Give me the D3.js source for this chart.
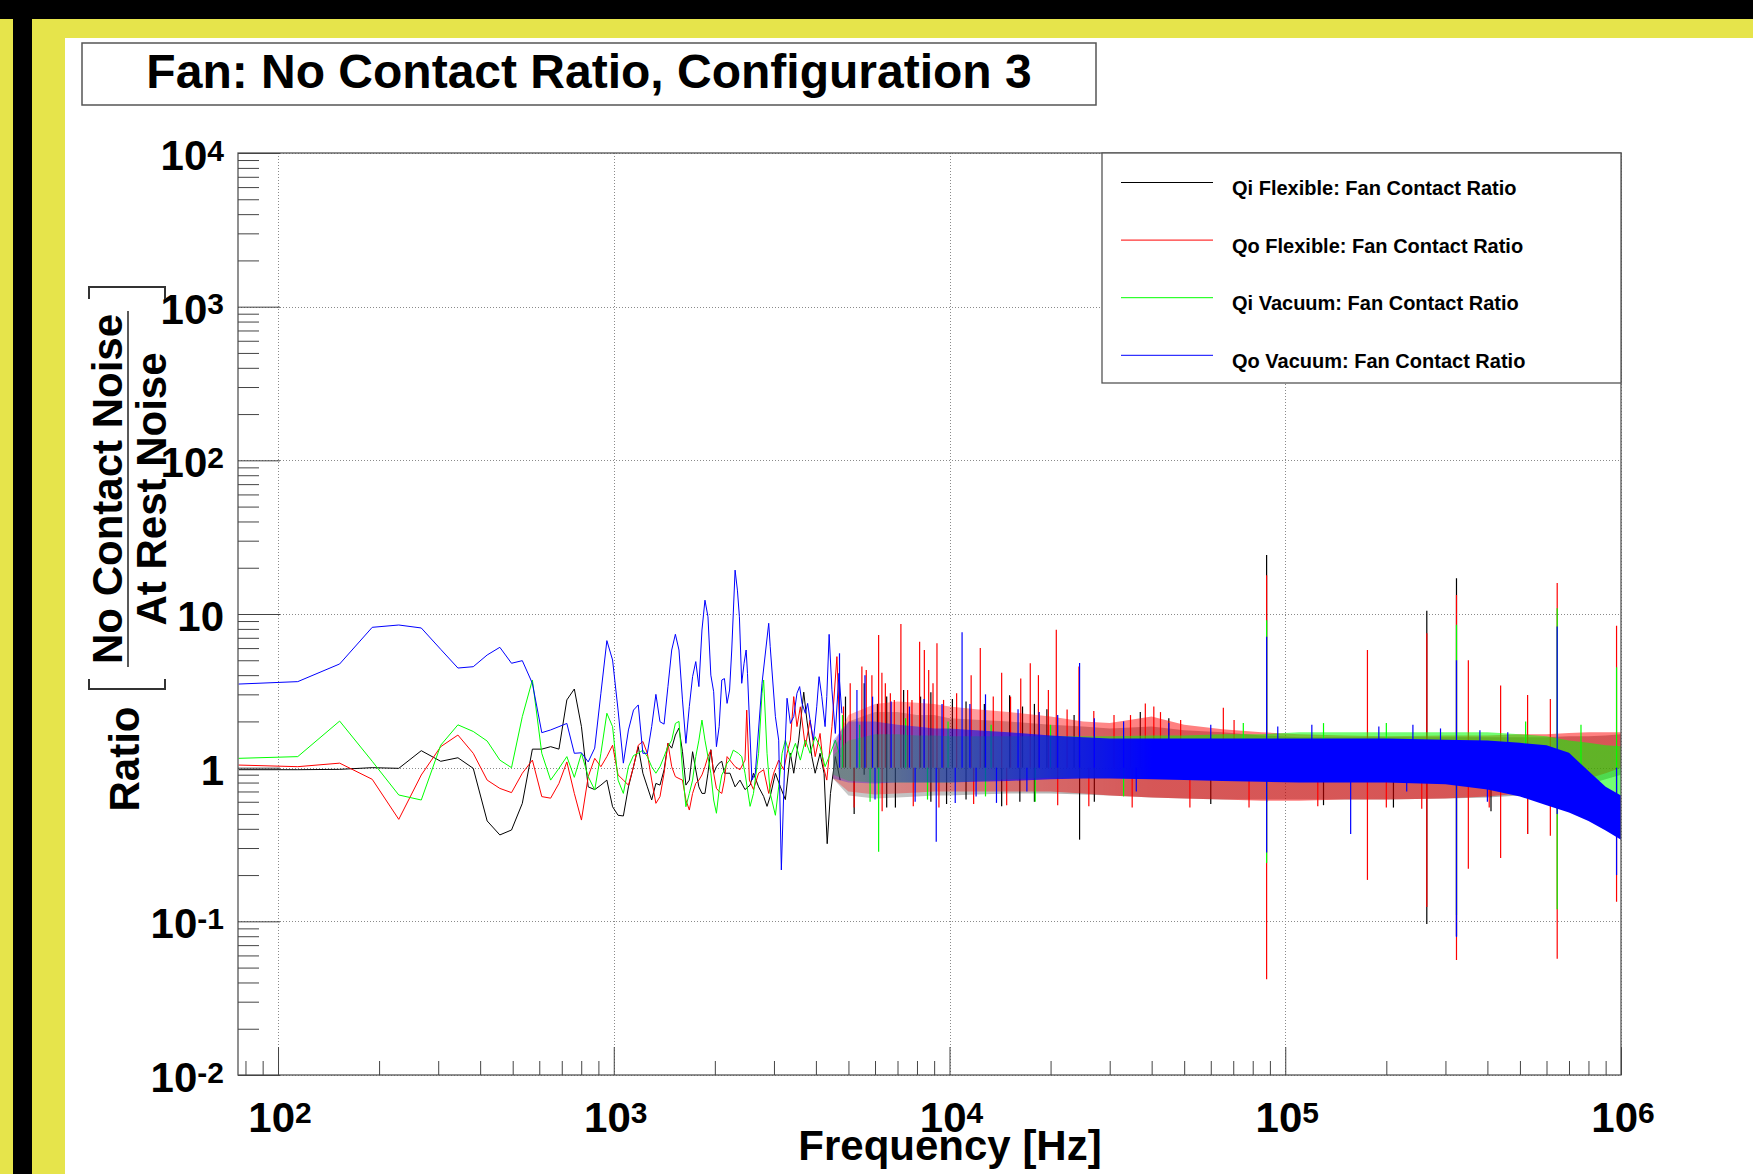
<!DOCTYPE html>
<html><head><meta charset="utf-8">
<script src="https://cdn.jsdelivr.net/npm/d3@7"></script>
<style>
html,body{margin:0;padding:0;background:#fff;}
svg{display:block;font-family:"Liberation Sans",Arial,Helvetica,sans-serif;font-weight:bold;}
</style></head><body>
<svg id="c" width="1753" height="1174"></svg>
<script>
// ---------------- DATA ----------------
const chartTitle = "Fan: No Contact Ratio, Configuration 3";
const xTitle = "Frequency [Hz]";
const seriesNames = ["Qi Flexible: Fan Contact Ratio","Qo Flexible: Fan Contact Ratio","Qi Vacuum: Fan Contact Ratio","Qo Vacuum: Fan Contact Ratio"];
const seriesColors = ["#000000","#ff0000","#00ff00","#0000ff"];

const xTickValues = [1e2,1e3,1e4,1e5,1e6];
const xTickLabels = [["10","2"],["10","3"],["10","4"],["10","5"],["10","6"]];
const yTickValues = [1e-2,1e-1,1,10,1e2,1e3,1e4];
const yTickLabels = [["10","-2"],["10","-1"],["1",""],["10",""],["10","2"],["10","3"],["10","4"]];

// low-frequency traces: [frequency Hz, ratio]
const qiFlexLow = [[76.3,0.97],[114.5,0.97],[152.6,0.975],[190.8,1.0],[228.9,0.99],[267.1,1.29],[305.2,1.1],[343.4,1.16],[381.5,0.99],[419.7,0.45],[457.8,0.365],[496.0,0.393],[534.1,0.586],[572.3,1.32],[610.4,1.32],[648.6,1.37],[686.7,1.32],[724.9,2.76],[763.0,3.25],[801.2,1.85],[839.3,0.75],[877.5,0.72],[915.6,0.77],[953.8,0.83],[991.9,0.557],[1030,0.49],[1068,0.485],[1106,0.75],[1145,1.015],[1183,1.37],[1221,0.92],[1259,0.75],[1297,0.616],[1335,0.79],[1373,0.77],[1412,0.966],[1450,1.44],[1488,1.34],[1526,1.63],[1564,1.81],[1602,1.27],[1640,0.77],[1679,0.83],[1717,1.27],[1755,0.966],[1793,0.75],[1831,0.68],[1869,0.68],[1908,0.92],[1946,1.31],[1984,0.92],[2022,1.015],[2060,1.07],[2098,1.1],[2136,0.92],[2219,0.92],[2298,0.75],[2377,0.83],[2460,0.72],[2547,0.77],[2607,0.92],[2700,0.75],[2795,0.65],[2861,0.56],[2924,0.65],[3030,0.92],[3135,0.75],[3244,0.62],[3358,1.24],[3436,0.92],[3555,1.51],[3680,3.1],[3760,2.04],[3890,1.18],[3980,0.92],[4116,1.24],[4230,0.92],[4322,0.32],[4420,0.68],[4570,1.18],[4724,0.83]];
const qoFlexLow = [[76.3,1.04],[114.5,1.015],[152.6,1.07],[190.8,0.84],[228.9,0.461],[267.1,0.896],[305.2,1.37],[343.4,1.63],[381.5,1.24],[419.7,0.83],[457.8,0.733],[496.0,0.688],[534.1,0.92],[572.3,1.12],[610.4,0.648],[648.6,0.633],[686.7,0.79],[724.9,1.09],[763.0,0.68],[801.2,0.456],[839.3,0.874],[877.5,1.15],[915.6,1.015],[953.8,1.18],[991.9,1.40],[1030,0.897],[1068,0.83],[1106,0.77],[1145,1.015],[1183,1.40],[1221,1.48],[1259,1.24],[1297,0.83],[1335,0.586],[1373,0.648],[1412,0.92],[1450,1.44],[1488,1.015],[1526,0.874],[1564,0.85],[1602,0.83],[1640,0.616],[1679,0.53],[1717,0.68],[1755,0.79],[1793,0.83],[1831,0.897],[1869,1.015],[1908,1.18],[1946,1.30],[1984,0.92],[2022,0.733],[2060,0.70],[2098,0.68],[2136,0.83],[2175,1.18],[2298,1.015],[2377,0.97],[2460,1.12],[2489,2.37],[2535,0.83],[2607,0.72],[2700,0.92],[2795,0.97],[2894,0.68],[2994,0.92],[3099,1.12],[3208,0.97],[3282,1.24],[3358,1.51],[3436,2.9],[3513,1.85],[3595,2.49],[3720,1.37],[3843,2.04],[3980,1.18],[4116,1.67],[4212,1.015],[4310,0.83],[4465,1.85],[4620,5.28],[4724,1.51]];
const qiVacLow = [[76.3,1.15],[114.5,1.18],[152.6,2.01],[190.8,1.1],[228.9,0.664],[267.1,0.616],[305.2,1.40],[343.4,1.90],[381.5,1.72],[419.7,1.49],[457.8,1.12],[496.0,1.0],[534.1,2.15],[572.3,3.72],[610.4,1.24],[648.6,0.83],[686.7,0.99],[724.9,1.18],[763.0,0.865],[801.2,1.24],[839.3,0.874],[877.5,0.716],[915.6,1.24],[953.8,2.26],[991.9,1.85],[1030,0.83],[1068,0.68],[1106,1.015],[1145,1.2],[1183,1.24],[1221,1.30],[1259,1.18],[1297,1.015],[1335,0.92],[1373,1.015],[1412,1.18],[1450,1.37],[1488,1.51],[1526,1.94],[1564,2.0],[1602,0.966],[1640,0.557],[1679,0.68],[1717,0.83],[1755,1.18],[1793,1.51],[1831,2.04],[1869,1.51],[1908,1.18],[1946,0.92],[1984,0.616],[2022,0.505],[2060,0.716],[2098,0.897],[2136,0.966],[2175,1.07],[2213,1.12],[2270,1.30],[2350,1.24],[2405,1.18],[2460,0.92],[2547,0.56],[2607,0.68],[2700,1.24],[2764,3.05],[2795,3.72],[2861,1.24],[2924,0.68],[3030,0.49],[3099,0.75],[3172,1.24],[3244,1.51],[3358,1.18],[3476,1.44],[3595,1.12],[3720,1.51],[3843,1.24],[3980,1.59],[4116,1.37],[4260,1.015],[4420,1.24],[4570,1.51],[4724,1.18]];
const qoVacLow = [[76.3,3.50],[114.5,3.63],[152.6,4.73],[190.8,8.19],[228.9,8.48],[267.1,8.11],[305.2,5.89],[343.4,4.45],[381.5,4.54],[419.7,5.41],[457.8,6.07],[496.0,4.78],[534.1,4.97],[572.3,3.54],[610.4,1.69],[648.6,1.76],[686.7,1.85],[724.9,1.94],[763.0,1.24],[801.2,1.25],[839.3,1.09],[877.5,1.34],[915.6,3.05],[953.8,6.71],[991.9,5.02],[1030,2.37],[1068,1.07],[1106,1.76],[1145,2.37],[1183,2.56],[1221,1.24],[1259,1.24],[1297,1.85],[1335,3.0],[1373,1.99],[1412,1.92],[1450,3.37],[1488,5.83],[1526,7.38],[1564,5.83],[1602,2.76],[1640,1.44],[1679,2.5],[1717,3.91],[1755,4.9],[1793,3.37],[1831,7.87],[1869,12.3],[1908,9.6],[1946,4.0],[1984,3.12],[2022,1.37],[2060,1.85],[2098,3.72],[2136,3.8],[2175,2.62],[2213,3.2],[2246,5.83],[2298,19.3],[2335,14.3],[2367,9.6],[2405,3.54],[2444,4.78],[2479,5.83],[2502,4.11],[2579,0.83],[2640,0.92],[2764,3.54],[2894,8.7],[2924,6.13],[3030,2.15],[3099,1.51],[3156,0.216],[3244,1.51],[3282,2.83],[3358,1.94],[3436,2.15],[3513,3.05],[3578,3.37],[3637,2.62],[3720,2.26],[3780,2.62],[3843,2.04],[3934,1.51],[4023,2.49],[4088,3.91],[4165,2.9],[4260,1.85],[4310,2.9],[4380,7.37],[4465,3.21],[4570,1.67],[4685,4.11],[4780,2.26]];

// dense region: envelope of each trace on a common frequency grid
const bandFreqs = [4500,5000,6000,7000,8000,9000,10000,12000,15000,20000,25000,30000,40000,50000,65000,85000,110000,150000,200000,300000,400000,500000,600000,700000,800000,900000,1000000];
const qiFlexHi = [1.3,2.0,2.3,2.3,2.2,2.2,2.1,2.05,2.0,1.9,1.85,1.8,1.85,1.75,1.7,1.62,1.58,1.58,1.58,1.58,1.58,1.58,1.58,1.6,1.6,1.62,1.65];
const qiFlexLo = [0.85,0.66,0.63,0.64,0.65,0.66,0.66,0.67,0.68,0.68,0.67,0.66,0.64,0.63,0.62,0.62,0.62,0.62,0.62,0.63,0.64,0.66,0.69,0.73,0.78,0.84,0.9];
const qoFlexHi = [1.4,2.2,2.6,2.7,2.65,2.6,2.5,2.4,2.3,2.15,2.0,1.95,2.15,1.9,1.78,1.7,1.65,1.62,1.6,1.62,1.62,1.65,1.65,1.68,1.7,1.7,1.7];
const qoFlexLo = [0.85,0.7,0.67,0.68,0.69,0.7,0.7,0.7,0.7,0.7,0.68,0.66,0.64,0.63,0.62,0.61,0.61,0.62,0.62,0.63,0.65,0.68,0.72,0.78,0.85,0.92,1.0];
const qiVacHi = [1.2,1.5,1.65,1.65,1.62,1.62,1.6,1.6,1.6,1.6,1.6,1.6,1.62,1.62,1.65,1.65,1.7,1.7,1.7,1.7,1.7,1.65,1.6,1.5,1.45,1.4,1.38];
const qiVacLo = [0.9,0.82,0.8,0.8,0.8,0.8,0.8,0.82,0.84,0.86,0.86,0.86,0.86,0.85,0.84,0.83,0.82,0.82,0.82,0.8,0.76,0.72,0.7,0.68,0.66,0.64,0.62];
const qoVacHi = [1.5,2.0,2.0,1.9,1.85,1.8,1.8,1.75,1.7,1.62,1.58,1.55,1.55,1.55,1.55,1.55,1.55,1.55,1.55,1.52,1.5,1.45,1.4,1.25,0.95,0.75,0.66];
const qoVacLo = [0.85,0.8,0.79,0.8,0.8,0.8,0.8,0.81,0.82,0.84,0.85,0.85,0.84,0.83,0.82,0.81,0.8,0.8,0.8,0.78,0.72,0.65,0.57,0.51,0.45,0.39,0.34];

// isolated excursions: [frequency Hz, low ratio, high ratio]
const qiFlexSpikes = [[4900,1,2.9],[5200,0.5,1],[5570,0.9,3.54],[6100,1,2.6],[6500,0.55,2.9],[6900,0.55,1],[7300,1,3.2],[8200,1,2.9],[8800,0.6,3.1],[9800,0.58,1],[10200,1,2.8],[11200,0.62,2.7],[12700,1,2.6],[14300,0.56,1.0],[15100,1.0,2.96],[16200,0.6,1],[16500,1,2.5],[17900,0.6,2.6],[19500,1,2.4],[23500,1,2.2],[24400,0.34,1.2],[27000,0.6,1],[37000,1,2.3],[45000,1,2.1],[60000,0.58,1],[88000,0.6,24.2],[130000,0.57,1],[210000,0.55,1],[264000,0.096,10.5],[323600,0.08,17.1],[410000,0.52,1],[527000,0.37,1.0]];
const qoFlexSpikes = [[4833,1,2.5],[5061,1,3.54],[5200,0.55,1],[5483,1,4.55],[5650,1,4.32],[5873,1,4.0],[6150,1,7.3],[6290,1,4.15],[6300,0.52,1],[6440,1,3.54],[6665,1,3.05],[6850,1,2.76],[7165,1,8.6],[7502,1,3.2],[7730,1,2.76],[7800,0.56,1],[8147,1,6.6],[8415,1,5.83],[8670,1,4.32],[8930,1,3.54],[9176,1,6.45],[9300,0.55,1],[9600,1,2.76],[10500,1,3.05],[11600,1,4.0],[11800,0.58,1],[12350,1,6.0],[13500,1,2.9],[14300,1,4.15],[14800,0.57,1],[15200,1,2.9],[16300,1,3.8],[17400,1,4.78],[18400,1,4.0],[19700,1,3.2],[20800,1,7.9],[21000,0.57,1],[22400,1,2.39],[24300,1,4.55],[26000,0.56,1],[26900,1,2.34],[30900,1,2.2],[34600,1,2.2],[35000,0.55,1],[38300,1,2.62],[40600,1,2.5],[42500,1,2.3],[48800,1,2.04],[52000,0.55,1],[65400,1,2.45],[70400,1,2.04],[78000,0.55,1],[88000,0.042,17.9],[125000,0.56,1],[175700,0.186,5.83],[200000,0.55,1],[255000,0.54,1],[264000,0.124,7.5],[323600,0.056,13.3],[351000,0.22,5.0],[405000,0.55,1],[438000,0.258,3.42],[527000,0.37,2.97],[616000,0.36,2.8],[645600,0.057,15.9],[970000,0.134,8.4]];
const qiVacSpikes = [[4800,1,2.2],[5400,1,1.9],[5800,0.6,1],[6150,0.284,1.0],[7400,1,2.1],[8600,0.62,1],[9900,1,2.0],[12800,0.65,1],[13300,1,1.9],[18000,0.6,1],[20000,1,1.9],[33000,0.65,1],[75000,1,1.95],[88000,0.24,9.1],[130000,1,1.95],[200000,1,1.95],[323600,0.11,8.5],[520000,1,2.0],[645600,0.12,10.9],[760000,1,1.9],[970000,0.5,4.5]];
const qoVacSpikes = [[4703,1.0,5.55],[5300,1,3.2],[5600,1.0,4.0],[5900,1,2.9],[6000,0.62,1],[6700,1,2.7],[7600,1,2.5],[7900,0.6,1],[8400,1,2.8],[9130,0.33,1.0],[9500,1,2.6],[10400,0.59,1.0],[10900,1.0,7.6],[11500,1,2.6],[12000,0.65,1],[12800,1,3.0],[13800,0.59,1.0],[16000,1,2.4],[17000,0.7,1],[18500,1,2.3],[21000,1,2.2],[24400,1.0,4.8],[27000,1,2.1],[33000,1,2.0],[36000,0.7,1],[45000,1,1.95],[60000,1,1.9],[88000,0.28,7.1],[95000,1,1.85],[120000,1,1.9],[156600,0.37,1.0],[190000,1,1.85],[230000,0.7,1],[240000,1,1.9],[290000,1,1.8],[323600,0.079,5.0],[380000,1,1.75],[400000,0.6,1],[460000,1,1.7],[645600,0.5,8.3],[970000,0.2,1.0]];

const lowTraces = [qiFlexLow,qoFlexLow,qiVacLow,qoVacLow];
const bandHi = [qiFlexHi,qoFlexHi,qiVacHi,qoVacHi];
const bandLo = [qiFlexLo,qoFlexLo,qiVacLo,qoVacLo];
const spikeSets = [qiFlexSpikes,qoFlexSpikes,qiVacSpikes,qoVacSpikes];

// ---------------- LAYOUT / STYLE ----------------
const W = 1753, H = 1174;
const X0 = 238, X1 = 1621, Y0 = 153, Y1 = 1075;
const yellow = "#e6e44b";
const bandOpacityStart = [0.22,0.3,0.3,0.25];
const bandOpacityEnd = [0.32,0.5,0.55,1];
const svg = d3.select("#c");

svg.append("rect").attr("width",W).attr("height",H).attr("fill","#fff");
svg.append("rect").attr("x",0).attr("y",0).attr("width",W).attr("height",19).attr("fill","#000");
svg.append("rect").attr("x",0).attr("y",19).attr("width",13).attr("height",H-19).attr("fill",yellow);
svg.append("rect").attr("x",13).attr("y",19).attr("width",19).attr("height",H-19).attr("fill","#000");
svg.append("rect").attr("x",32).attr("y",19).attr("width",33).attr("height",H-19).attr("fill",yellow);
svg.append("rect").attr("x",32).attr("y",19).attr("width",W-32).attr("height",19).attr("fill",yellow);

const x = d3.scaleLog().domain([76,1e6]).range([X0,X1]);
const y = d3.scaleLog().domain([0.01,1e4]).range([Y1,Y0]);
const isMajor = v => Math.abs(Math.log10(v)-Math.round(Math.log10(v)))<1e-9;

// grid
const grid = svg.append("g").attr("stroke","#8a8a8a").attr("stroke-width",1).attr("stroke-dasharray","1,2");
xTickValues.forEach(v=>grid.append("line").attr("x1",Math.round(x(v))+0.5).attr("x2",Math.round(x(v))+0.5).attr("y1",Y0).attr("y2",Y1));
yTickValues.forEach(v=>grid.append("line").attr("x1",X0).attr("x2",X1).attr("y1",Math.round(y(v))+0.5).attr("y2",Math.round(y(v))+0.5));

// data
const defs = svg.append("defs");
defs.append("clipPath").attr("id","clip").append("rect").attr("x",X0).attr("y",Y0).attr("width",X1-X0).attr("height",Y1-Y0);
const plot = svg.append("g").attr("clip-path","url(#clip)");
const line = d3.line().x(d=>x(d[0])).y(d=>y(d[1]));

seriesColors.forEach((c,i)=>{
  const gid = "band"+i;
  const gr = defs.append("linearGradient").attr("id",gid).attr("gradientUnits","userSpaceOnUse")
    .attr("x1",x(5000)).attr("x2",x(40000)).attr("y1",0).attr("y2",0);
  gr.append("stop").attr("offset",0).attr("stop-color",c).attr("stop-opacity",bandOpacityStart[i]);
  gr.append("stop").attr("offset",1).attr("stop-color",c).attr("stop-opacity",bandOpacityEnd[i]);
  const g = plot.append("g");
  const area = d3.area().x((d,k)=>x(bandFreqs[k])).y0((d,k)=>y(bandLo[i][k])).y1((d,k)=>y(bandHi[i][k]));
  g.append("path").datum(bandFreqs).attr("d",area).attr("fill",`url(#${gid})`).attr("stroke","none");
  g.append("path").datum(lowTraces[i]).attr("d",line).attr("fill","none").attr("stroke",c).attr("stroke-width",1);
  g.selectAll("line.sp").data(spikeSets[i]).enter().append("line")
    .attr("x1",d=>x(d[0])).attr("x2",d=>x(d[0])).attr("y1",d=>y(d[1])).attr("y2",d=>y(d[2]))
    .attr("stroke",c).attr("stroke-width",1.2);
});

// frame
svg.append("rect").attr("x",X0).attr("y",Y0).attr("width",X1-X0).attr("height",Y1-Y0)
  .attr("fill","none").attr("stroke","#555").attr("stroke-width",1.3);

// ticks via axes
const xAll = x.ticks(), yAll = y.ticks();
const axStyle = g=>{g.select(".domain").remove(); g.attr("color","#444");};
svg.append("g").attr("transform",`translate(0,${Y1})`).call(d3.axisBottom(x).tickValues(xAll.filter(v=>!isMajor(v))).tickSize(-14).tickFormat("")).call(axStyle);
svg.append("g").attr("transform",`translate(0,${Y1})`).call(d3.axisBottom(x).tickValues(xAll.filter(isMajor)).tickSize(-28).tickFormat("")).call(axStyle);
svg.append("g").attr("transform",`translate(${X0},0)`).call(d3.axisLeft(y).tickValues(yAll.filter(v=>!isMajor(v))).tickSize(-21).tickFormat("")).call(axStyle);
svg.append("g").attr("transform",`translate(${X0},0)`).call(d3.axisLeft(y).tickValues(yAll.filter(isMajor)).tickSize(-42).tickFormat("")).call(axStyle);

// tick labels
yTickValues.forEach((v,i)=>{
  const t = svg.append("text").attr("x",224).attr("y",y(v)+17).attr("text-anchor","end").attr("font-size",42).attr("fill","#000");
  t.append("tspan").text(yTickLabels[i][0]);
  if (yTickLabels[i][1]) t.append("tspan").attr("font-size",30).attr("dy",-9.5).text(yTickLabels[i][1]);
});
xTickValues.forEach((v,i)=>{
  const t = svg.append("text").attr("x",x(v)+2).attr("y",1132).attr("text-anchor","middle").attr("font-size",42).attr("fill","#000");
  t.append("tspan").text(xTickLabels[i][0]);
  t.append("tspan").attr("font-size",30).attr("dy",-9.5).text(xTickLabels[i][1]);
});

// axis titles
svg.append("text").attr("x",950).attr("y",1160).attr("text-anchor","middle").attr("font-size",42).text(xTitle);
const yt = svg.append("g");
yt.append("text").attr("transform","translate(139,759) rotate(-90)").attr("text-anchor","middle").attr("font-size",42).text("Ratio");
yt.append("text").attr("transform","translate(122,489) rotate(-90)").attr("text-anchor","middle").attr("font-size",42).text("No Contact Noise");
yt.append("text").attr("transform","translate(166,489) rotate(-90)").attr("text-anchor","middle").attr("font-size",42).text("At Rest Noise");
yt.append("line").attr("x1",128).attr("x2",128).attr("y1",311).attr("y2",667).attr("stroke","#222").attr("stroke-width",1.5);
yt.append("path").attr("d","M89,299V287H165V299").attr("fill","none").attr("stroke","#333").attr("stroke-width",2);
yt.append("path").attr("d","M89,679V689H165V679").attr("fill","none").attr("stroke","#333").attr("stroke-width",2);

// title box
svg.append("rect").attr("x",82).attr("y",43).attr("width",1014).attr("height",62).attr("fill","#fff").attr("stroke","#555").attr("stroke-width",1.5);
svg.append("text").attr("x",589).attr("y",88).attr("text-anchor","middle").attr("font-size",48).text(chartTitle);

// legend
svg.append("rect").attr("x",1102).attr("y",153).attr("width",519).attr("height",230).attr("fill","#fff").attr("stroke","#555").attr("stroke-width",1.3);
seriesNames.forEach((n,i)=>{
  const ly = 182.5 + i*57.6;
  svg.append("line").attr("x1",1121).attr("x2",1213).attr("y1",ly).attr("y2",ly).attr("stroke",seriesColors[i]).attr("stroke-width",1);
  svg.append("text").attr("x",1232).attr("y",ly+12.5).attr("font-size",20).text(n);
});
</script></body></html>
